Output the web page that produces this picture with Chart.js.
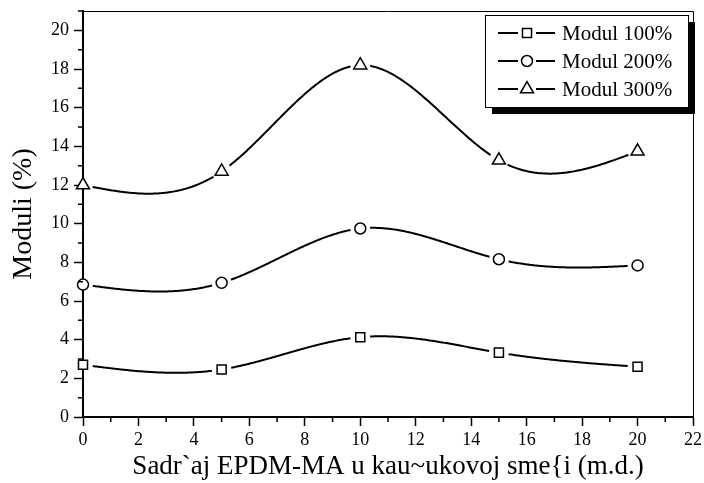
<!DOCTYPE html>
<html>
<head>
<meta charset="utf-8">
<script src="https://cdn.jsdelivr.net/npm/chart.js@4"></script>
<style>
  body { margin: 0; background: #fff; }
  canvas { display: block; }
</style>
</head>
<body>
<canvas id="myChart" width="704" height="483"></canvas>
<script>
const xValues = [0, 5, 10, 15, 20];
const modul100 = [2.7, 2.46, 4.13, 3.33, 2.6];
const modul200 = [6.85, 6.94, 9.75, 8.16, 7.84];
const modul300 = [12.0, 12.7, 18.2, 13.28, 13.74];
const seriesLabels = ["Modul 100%", "Modul 200%", "Modul 300%"];
const xTitle = "Sadr`aj EPDM-MA u kau~ukovoj sme{i (m.d.)";
const yTitle = "Moduli (%)";

const FONT = "'Liberation Serif', 'Times New Roman', serif";

// natural cubic spline through (xs, ys), returns function
function naturalSpline(xs, ys) {
  const n = xs.length;
  const h = [], a = [];
  for (let i = 0; i < n - 1; i++) h.push(xs[i + 1] - xs[i]);
  const l = new Array(n).fill(1), mu = new Array(n).fill(0), z = new Array(n).fill(0);
  for (let i = 1; i < n - 1; i++) {
    a[i] = 3 / h[i] * (ys[i + 1] - ys[i]) - 3 / h[i - 1] * (ys[i] - ys[i - 1]);
    l[i] = 2 * (xs[i + 1] - xs[i - 1]) - h[i - 1] * mu[i - 1];
    mu[i] = h[i] / l[i];
    z[i] = (a[i] - h[i - 1] * z[i - 1]) / l[i];
  }
  const c = new Array(n).fill(0), b = [], d = [];
  for (let j = n - 2; j >= 0; j--) {
    c[j] = z[j] - mu[j] * c[j + 1];
    b[j] = (ys[j + 1] - ys[j]) / h[j] - h[j] * (c[j + 1] + 2 * c[j]) / 3;
    d[j] = (c[j + 1] - c[j]) / (3 * h[j]);
  }
  return (x) => {
    let j = 0;
    while (j < n - 2 && x > xs[j + 1]) j++;
    const dx = x - xs[j];
    return ys[j] + b[j] * dx + c[j] * dx * dx + d[j] * dx * dx * dx;
  };
}

const splineLines = {
  id: "splineLines",
  beforeDatasetsDraw(chart) {
    const { ctx, scales: { x, y } } = chart;
    chart.data.datasets.forEach((ds) => {
      const xs = ds.data.map((p) => p.x);
      const ys = ds.data.map((p) => p.y);
      const f = naturalSpline(xs, ys);
      ctx.save();
      // cut the line around every marker
      ctx.beginPath();
      ctx.rect(0, 0, chart.width, chart.height);
      ds.data.forEach((p) => {
        const px = x.getPixelForValue(p.x), py = y.getPixelForValue(p.y);
        ctx.moveTo(px + 10, py);
        ctx.arc(px, py, 10, 0, Math.PI * 2);
      });
      ctx.clip("evenodd");
      ctx.beginPath();
      const x0 = xs[0], x1 = xs[xs.length - 1];
      for (let i = 0; i <= 400; i++) {
        const xv = x0 + (x1 - x0) * i / 400;
        const px = x.getPixelForValue(xv), py = y.getPixelForValue(f(xv));
        if (i === 0) ctx.moveTo(px, py); else ctx.lineTo(px, py);
      }
      ctx.strokeStyle = "#000";
      ctx.lineWidth = 2;
      ctx.stroke();
      ctx.restore();
    });
  },
};

const axesFrame = {
  id: "axesFrame",
  afterDraw(chart) {
    const { ctx, chartArea: { top, bottom, left, right }, scales: { x, y } } = chart;
    ctx.save();
    ctx.strokeStyle = "#000";
    // minor ticks
    ctx.lineWidth = 1.5;
    ctx.beginPath();
    x.ticks.forEach((t) => {
      if (t.value % 2 !== 0) {
        const px = x.getPixelForValue(t.value);
        ctx.moveTo(px, bottom); ctx.lineTo(px, bottom + 5);
      }
    });
    y.ticks.forEach((t) => {
      if (t.value % 2 !== 0) {
        const py = y.getPixelForValue(t.value);
        ctx.moveTo(left, py); ctx.lineTo(left - 5, py);
      }
    });
    ctx.stroke();
    // top and right frame
    ctx.lineWidth = 1;
    ctx.beginPath();
    ctx.moveTo(left, top + 0.5); ctx.lineTo(right + 0.5, top + 0.5); ctx.lineTo(right + 0.5, bottom);
    ctx.stroke();

    // legend with drop shadow
    const bx = right - 208, by = top + 4, bw = 203, bh = 92;
    ctx.fillStyle = "#000";
    ctx.fillRect(bx + 7, by + 7, bw, bh);
    ctx.fillStyle = "#fff";
    ctx.fillRect(bx, by, bw, bh);
    ctx.lineWidth = 1;
    ctx.strokeRect(bx + 0.5, by + 0.5, bw, bh);
    chart.data.datasets.forEach((ds, i) => {
      const ry = by + 18 + i * 28;
      const mx = bx + 42;
      ctx.lineWidth = 2;
      ctx.beginPath();
      ctx.moveTo(bx + 13, ry); ctx.lineTo(mx - 9, ry);
      ctx.moveTo(mx + 9, ry); ctx.lineTo(bx + 70, ry);
      ctx.stroke();
      ctx.lineWidth = 1.5;
      ctx.fillStyle = "#fff";
      Chart.helpers.drawPoint(ctx, { pointStyle: ds.pointStyle, radius: ds.pointRadius, rotation: 0, borderWidth: 1.5 }, mx, ry);
      ctx.fillStyle = "#000";
      ctx.font = "21px " + FONT;
      ctx.textBaseline = "middle";
      ctx.textAlign = "left";
      ctx.fillText(ds.label, bx + 77, ry + 1);
    });
    ctx.restore();
  },
};

const pointStyles = ["rect", "circle", "triangle"];
const pointSizes = [6.4, 5.5, 7.5];
const seriesValues = [modul100, modul200, modul300];

new Chart(document.getElementById("myChart").getContext("2d"), {
  type: "scatter",
  data: {
    datasets: seriesValues.map((vals, i) => ({
      label: seriesLabels[i],
      data: xValues.map((xv, k) => ({ x: xv, y: vals[k] })),
      showLine: false,
      pointStyle: pointStyles[i],
      pointRadius: pointSizes[i],
      pointHoverRadius: pointSizes[i],
      pointBackgroundColor: "#fff",
      pointBorderColor: "#000",
      pointBorderWidth: 1.5,
      clip: false,
    })),
  },
  options: {
    responsive: false,
    animation: false,
    events: [],
    layout: { padding: { top: 11, right: 11, left: 0, bottom: 0 } },
    scales: {
      x: {
        type: "linear",
        min: 0,
        max: 22,
        afterFit(scale) {
          scale.height = 66;
          scale.paddingLeft = 0;
          scale.paddingRight = 0;
        },
        ticks: {
          stepSize: 1,
          autoSkip: false,
          maxRotation: 0,
          padding: 3,
          color: "#000",
          font: { family: FONT, size: 18 },
          callback: (v) => (v % 2 === 0 ? v : ""),
        },
        grid: {
          drawOnChartArea: false,
          tickLength: 9,
          tickWidth: 1.5,
          tickColor: (c) => (c.tick && c.tick.value % 2 === 0 ? "#000" : "rgba(0,0,0,0)"),
        },
        border: { display: true, color: "#000", width: 2 },
        title: {
          display: true,
          text: xTitle,
          color: "#000",
          font: { family: FONT, size: 27 },
          padding: { top: 0, bottom: 0 },
        },
      },
      y: {
        min: 0,
        max: 21,
        afterFit(scale) {
          scale.width = 83;
          scale.paddingTop = 0;
          scale.paddingBottom = 0;
        },
        ticks: {
          stepSize: 1,
          autoSkip: false,
          padding: 5,
          color: "#000",
          font: { family: FONT, size: 18 },
          callback: (v) => (v % 2 === 0 ? v : ""),
        },
        grid: {
          drawOnChartArea: false,
          tickLength: 9,
          tickWidth: 1.5,
          tickColor: (c) => (c.tick && c.tick.value % 2 === 0 ? "#000" : "rgba(0,0,0,0)"),
        },
        border: { display: true, color: "#000", width: 2 },
        title: {
          display: true,
          text: yTitle,
          color: "#000",
          font: { family: FONT, size: 28 },
          padding: { top: 7, bottom: 0 },
        },
      },
    },
    plugins: {
      legend: { display: false },
      tooltip: { enabled: false },
    },
  },
  plugins: [splineLines, axesFrame],
});
</script>
</body>
</html>
